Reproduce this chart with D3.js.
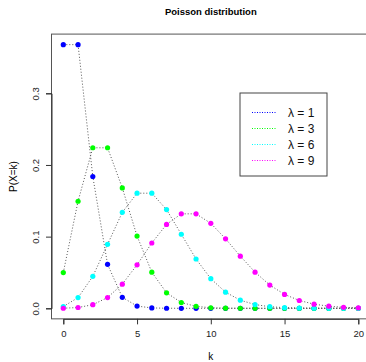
<!DOCTYPE html>
<html>
<head>
<meta charset="utf-8">
<script src="https://cdn.jsdelivr.net/npm/d3@7"></script>
<style>
  body { margin: 0; background: #fff; }
  svg { display: block; font-family: "Liberation Sans", Arial, sans-serif; }
</style>
</head>
<body>
<div class="chart"></div>
<script>
// values (k = 0..20)
var ks = d3.range(0, 21);
var lambdas = [1, 3, 6, 9];
var colors = ["#0000ff", "#00ff00", "#00ffff", "#ff00ff"];
var p1 = [0.3679, 0.3679, 0.1839, 0.0613, 0.0153, 0.0031, 0.0005, 0.0001, 0, 0, 0, 0, 0, 0, 0, 0, 0, 0, 0, 0, 0];
var p3 = [0.0498, 0.1494, 0.2240, 0.2240, 0.1680, 0.1008, 0.0504, 0.0216, 0.0081, 0.0027, 0.0008, 0.0002, 0.0001, 0, 0, 0, 0, 0, 0, 0, 0];
var p6 = [0.0025, 0.0149, 0.0446, 0.0892, 0.1339, 0.1606, 0.1606, 0.1377, 0.1033, 0.0688, 0.0413, 0.0225, 0.0113, 0.0052, 0.0022, 0.0009, 0.0003, 0.0001, 0.0000, 0, 0];
var p9 = [0.0001, 0.0011, 0.0050, 0.0150, 0.0337, 0.0607, 0.0911, 0.1171, 0.1318, 0.1318, 0.1186, 0.0970, 0.0728, 0.0504, 0.0324, 0.0194, 0.0109, 0.0058, 0.0029, 0.0014, 0.0006];
var xTicks = [0, 5, 10, 15, 20];
var yTicks = [0.0, 0.1, 0.2, 0.3];

var series = [p1, p3, p6, p9];

var width = 366, height = 362;

var svg = d3.select(".chart").append("svg")
  .attr("width", width)
  .attr("height", height);

var x = d3.scaleLinear().domain([0, 20]).range([63.3, 358.3]);
var y = d3.scaleLinear().domain([0, 0.3]).range([308.3, 93.3]);

var yMax = d3.max(p1) * 1.04;
var xPad = 20 * 0.04;

// plot box
svg.append("rect")
  .attr("x", x(-xPad))
  .attr("y", y(yMax))
  .attr("width", x(20 + xPad) - x(-xPad))
  .attr("height", y(-yMax * 0.04 / 1.04) - y(yMax))
  .attr("fill", "none")
  .attr("stroke", "#555")
  .attr("stroke-width", 1);

var bottom = y(-yMax * 0.04 / 1.04);
var left = x(-xPad);

var xAxis = svg.append("g")
  .attr("transform", "translate(0," + bottom + ")")
  .call(d3.axisBottom(x).tickValues(xTicks).tickSizeOuter(0).tickSize(5.5).tickPadding(6)
    .tickFormat(d3.format("d")));
xAxis.select(".domain").attr("stroke", "#333");
xAxis.selectAll(".tick line").attr("stroke", "#333");
xAxis.selectAll("text").attr("font-size", 9.5).attr("fill", "#222")
  .attr("font-family", "Liberation Sans, Arial, sans-serif");

var yAxis = svg.append("g")
  .attr("transform", "translate(" + left + ",0)")
  .call(d3.axisLeft(y).tickValues(yTicks).tickSizeOuter(0).tickSize(5.5)
    .tickFormat(d3.format(".1f")));
yAxis.select(".domain").attr("stroke", "#333");
yAxis.selectAll(".tick line").attr("stroke", "#333");
yAxis.selectAll("text")
  .attr("font-size", 9.5).attr("fill", "#222")
  .attr("font-family", "Liberation Sans, Arial, sans-serif")
  .attr("x", null).attr("dy", null)
  .attr("text-anchor", "middle")
  .attr("transform", "translate(-13,0) rotate(-90)");

// title + axis labels
svg.append("text")
  .attr("x", (x(-xPad) + x(20 + xPad)) / 2)
  .attr("y", 15)
  .attr("text-anchor", "middle")
  .attr("font-size", 9.5)
  .attr("font-weight", "bold")
  .text("Poisson distribution");

svg.append("text")
  .attr("x", (x(-xPad) + x(20 + xPad)) / 2)
  .attr("y", 360)
  .attr("text-anchor", "middle")
  .attr("font-size", 10)
  .text("k");

svg.append("text")
  .attr("transform", "translate(17," + ((y(yMax) + bottom) / 2) + ") rotate(-90)")
  .attr("text-anchor", "middle")
  .attr("font-size", 10)
  .text("P(X=k)");

// series
var line = d3.line()
  .x(function(d, i) { return x(ks[i]); })
  .y(function(d) { return y(d); });

series.forEach(function(vals, s) {
  svg.append("path")
    .datum(vals)
    .attr("d", line)
    .attr("fill", "none")
    .attr("stroke", "#555")
    .attr("stroke-width", 1)
    .attr("stroke-dasharray", "1,2");

  svg.selectAll(".pt" + s)
    .data(vals)
    .enter().append("circle")
      .attr("class", "pt" + s)
      .attr("cx", function(d, i) { return x(ks[i]); })
      .attr("cy", function(d) { return y(d); })
      .attr("r", 2.6)
      .attr("fill", colors[s]);
});

// legend
var legend = svg.append("g").attr("transform", "translate(240,93)");
legend.append("rect")
  .attr("width", 87)
  .attr("height", 83)
  .attr("fill", "#fff")
  .attr("stroke", "#444");

var items = legend.selectAll(".legend")
  .data(lambdas)
  .enter().append("g")
    .attr("class", "legend")
    .attr("transform", function(d, i) { return "translate(0," + (19.5 + i * 16) + ")"; });

items.append("line")
  .attr("x1", 12).attr("x2", 37)
  .attr("stroke", function(d, i) { return colors[i]; })
  .attr("stroke-width", 1)
  .attr("stroke-dasharray", "1,1.5");

items.append("text")
  .attr("x", 48)
  .attr("y", 4.5)
  .attr("font-size", 12)
  .attr("fill", "#111")
  .text(function(d) { return "λ = " + d; });
</script>
</body>
</html>
